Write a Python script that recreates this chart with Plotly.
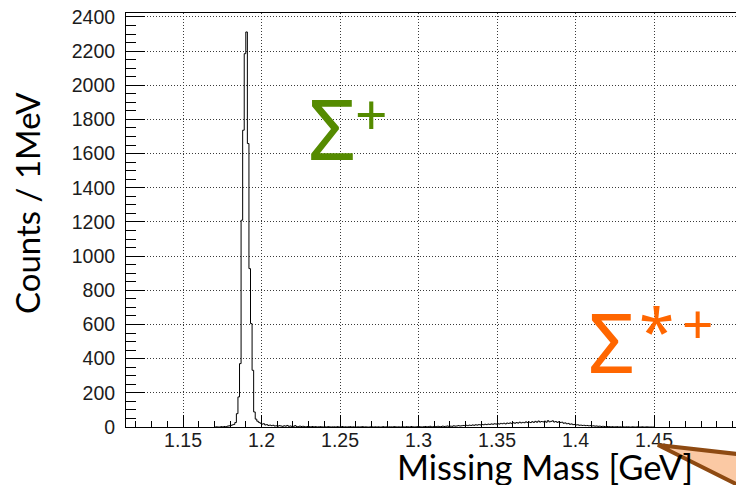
import numpy as np
import plotly.graph_objects as go

# ---------------- data ----------------
bin_width = 0.001          # 1 MeV bins
first_edge = 1.170         # low edge of first listed bin (GeV)
counts = [
    0, 1, 0, 0, 2, 1, 3, 2, 5, 7,                 # 1.170
    9, 12, 15, 26, 78, 176, 371, 1210, 1737, 2185,  # 1.180
    2312, 1659, 927, 605, 332, 88, 46, 34, 27, 22,  # 1.190
    17, 19, 12, 14, 9, 11, 8, 10, 6, 7,           # 1.200
    5, 8, 6, 4, 7, 5, 9, 4, 6, 3,                 # 1.210
    4, 8, 3, 2, 5, 3, 4, 2, 1, 3,                 # 1.220
    2, 1, 3, 1, 2, 0, 1, 2, 1, 0,                 # 1.230
    1, 0, 2, 1, 0, 1, 1, 0, 2, 0,                 # 1.240
    1, 3, 0, 1, 0, 1, 2, 0, 1, 0,                 # 1.250
    0, 1, 0, 1, 2, 0, 1, 0, 0, 1,                 # 1.260
    1, 0, 1, 0, 1, 0, 0, 2, 0, 1,                 # 1.270
    0, 1, 1, 0, 2, 1, 0, 1, 0, 1,                 # 1.280
    1, 0, 2, 1, 0, 3, 1, 0, 1, 2,                 # 1.290
    2, 1, 0, 2, 3, 1, 2, 4, 1, 2,                 # 1.300
    3, 2, 4, 2, 3, 5, 3, 4, 6, 3,                 # 1.310
    5, 4, 7, 5, 6, 8, 6, 7, 9, 8,                 # 1.320
    10, 8, 11, 9, 12, 10, 13, 11, 14, 12,         # 1.330
    15, 13, 16, 14, 17, 15, 18, 16, 19, 17,       # 1.340
    20, 17, 21, 19, 22, 18, 23, 21, 24, 20,       # 1.350
    25, 22, 26, 23, 28, 24, 27, 25, 30, 26,       # 1.360
    29, 26, 31, 27, 33, 28, 35, 29, 32, 30,       # 1.370
    34, 28, 37, 30, 33, 36, 29, 32, 27, 31,       # 1.380
    26, 28, 22, 24, 19, 21, 16, 18, 14, 15,       # 1.390
    12, 13, 10, 11, 9, 10, 8, 9, 7, 8,            # 1.400
    6, 7, 5, 6, 4, 5, 3, 4, 3, 2,                 # 1.410
    3, 2, 1, 2, 1, 1, 2, 0, 1, 0,                 # 1.420
    1, 0, 1, 1, 0, 0, 1, 0, 0, 1,                 # 1.430
    0, 0, 1, 0, 0, 1, 0, 0, 0, 0,                 # 1.440
]
x_tick_vals = [1.15, 1.20, 1.25, 1.30, 1.35, 1.40, 1.45]
x_tick_text = ["1.15", "1.2", "1.25", "1.3", "1.35", "1.4", "1.45"]
y_tick_vals = [0, 200, 400, 600, 800, 1000, 1200, 1400, 1600, 1800, 2000, 2200, 2400]
x_range = [1.1137, 1.5022]
y_range = [0, 2423]

x_title = "Missing Mass [GeV]"
y_title = "Counts / 1MeV"

# ---------------- figure ----------------
W, H = 736, 485
ML, MR, MT, MB = 126, 0, 13, 58
PW, PH = W - ML - MR, H - MT - MB

def px(xp):
    return (xp - ML) / PW

def py(yp):
    return (H - MB - yp) / PH

edges = first_edge + bin_width * np.arange(len(counts) + 1)
yvals = list(counts) + [counts[-1]]

fig = go.Figure()
fig.add_trace(go.Scatter(
    x=edges, y=yvals, mode="lines", line=dict(shape="hv", color="black", width=1),
    hoverinfo="skip", showlegend=False, cliponaxis=True,
))

tick_font = dict(family="Liberation Sans, Arial, sans-serif", size=19.5, color="#1c1c1c")
grid_kw = dict(showgrid=True, gridcolor="#3a3a3a", gridwidth=1, griddash="1px,2px")

fig.update_xaxes(
    range=x_range, tickmode="array", tickvals=x_tick_vals, ticktext=x_tick_text,
    ticks="inside", ticklen=12, tickwidth=1, tickcolor="black",
    minor=dict(ticks="inside", ticklen=6, tickwidth=1, tickcolor="black", dtick=0.01,
               tick0=1.15, showgrid=False),
    showline=True, linecolor="black", linewidth=1, mirror=True,
    tickfont=tick_font, zeroline=False, ticklabelstandoff=-4, **grid_kw,
)
fig.update_yaxes(
    range=y_range, tickmode="array", tickvals=y_tick_vals,
    ticks="inside", ticklen=19, tickwidth=1, tickcolor="black",
    minor=dict(ticks="inside", ticklen=10, tickwidth=1, tickcolor="black", dtick=50,
               tick0=0, showgrid=False),
    showline=True, linecolor="black", linewidth=1, mirror=False,
    tickfont=tick_font, zeroline=False, ticklabelstandoff=6, **grid_kw,
)

green = "#558B00"
orange = "#FF6600"
sym_font = "Noto Sans, DejaVu Sans, sans-serif"

annotations = [
    dict(text=x_title, x=px(545), y=py(466), xref="paper", yref="paper",
         xanchor="center", yanchor="middle", showarrow=False,
         font=dict(family="Lato, Noto Sans, sans-serif", size=34.5, color="black")),
    dict(text=y_title, x=px(27), y=py(203), xref="paper", yref="paper", textangle=-90,
         xanchor="center", yanchor="middle", showarrow=False,
         font=dict(family="Lato, Noto Sans, sans-serif", size=33, color="black")),
    dict(text="Σ", x=px(332), y=py(127), xref="paper", yref="paper",
         xanchor="center", yanchor="middle", showarrow=False,
         font=dict(family=sym_font, size=84, color=green)),
    dict(text="+", x=px(371), y=py(113), xref="paper", yref="paper",
         xanchor="center", yanchor="middle", showarrow=False,
         font=dict(family=sym_font, size=57, color=green)),
    dict(text="Σ", x=px(611), y=py(341), xref="paper", yref="paper",
         xanchor="center", yanchor="middle", showarrow=False,
         font=dict(family=sym_font, size=82, color=orange)),
    dict(text="*", x=px(656), y=py(330), xref="paper", yref="paper",
         xanchor="center", yanchor="middle", showarrow=False,
         font=dict(family=sym_font, size=64, color=orange)),
    dict(text="+", x=px(697), y=py(322), xref="paper", yref="paper",
         xanchor="center", yanchor="middle", showarrow=False,
         font=dict(family=sym_font, size=55, color=orange)),
]

tip = (658, 445)
upper = (790, 460)
lower = (790, 511)
path = "M {} {} L {} {} L {} {} Z".format(px(tip[0]), py(tip[1]), px(upper[0]), py(upper[1]),
                                        px(lower[0]), py(lower[1]))
shapes = [dict(type="path", path=path, xref="paper", yref="paper",
               fillcolor="#FBC9A4", line=dict(color="#8E4A12", width=4), layer="above")]

fig.update_layout(
    width=W, height=H, margin=dict(l=ML, r=MR, t=MT, b=MB, pad=0),
    paper_bgcolor="white", plot_bgcolor="white",
    annotations=annotations, shapes=shapes, showlegend=False,
)

fig.write_html("out.html", config={"displayModeBar": False},
               post_script="document.body.style.margin='0';")
